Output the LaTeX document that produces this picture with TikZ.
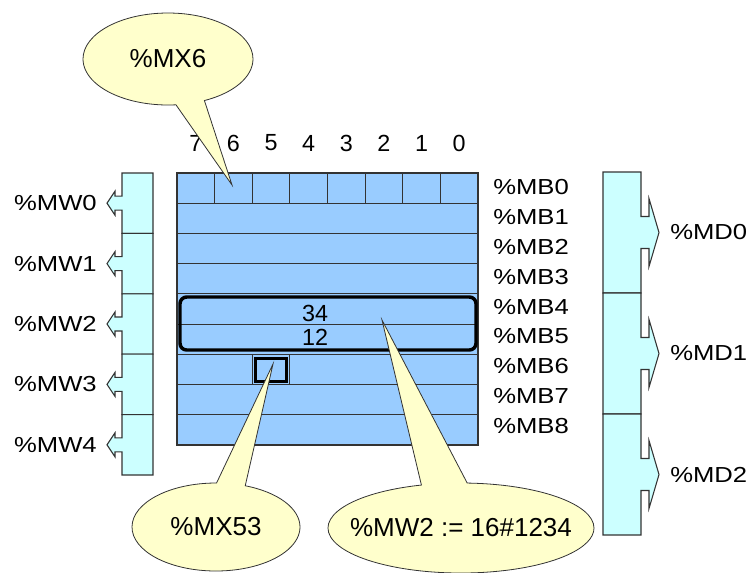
\documentclass[tikz,border=0pt]{standalone}
\usepackage{fontspec}
\setmainfont{Liberation Sans}
\newfontfamily\lblfont{Liberation Sans}[FakeStretch=1.18]
\usetikzlibrary{shapes.callouts}
\definecolor{membyte}{HTML}{99CCFF}
\definecolor{memword}{HTML}{CCFFFF}
\definecolor{notefill}{HTML}{FFFFCC}
\definecolor{edge}{HTML}{333333}

\begin{document}
\begin{tikzpicture}[x=0.75pt,y=-0.75pt,
		cell/.style={draw=edge,line width=0.8pt},
		addr/.style={font=\lblfont\fontsize{16.3pt}{18pt}\selectfont,inner sep=0pt},
		bit/.style={font=\fontsize{17.5pt}{19pt}\selectfont,inner sep=0pt},
		note/.style={ellipse callout,draw=edge,fill=notefill,line width=0.6pt,inner sep=0pt,callout pointer arc=20,font=\fontsize{19.5pt}{21pt}\selectfont},
		frame/.style={draw=black,line width=2.6pt,rounded corners=5pt}]
			\useasboundingbox (0,0) rectangle (752,572);
			\fill [membyte] (177,173) rectangle (478,445);
			\foreach \r in {1,...,8} \draw [cell] (177,173+30.22*\r) -- (478,173+30.22*\r);
			\foreach \c in {1,...,7} \draw [cell] (177+37.625*\c,173) -- (177+37.625*\c,203.2);
			\draw [cell] (252.25,354.3) -- (252.25,384.5);
			\draw [cell] (289.9,354.3) -- (289.9,384.5);
			\draw [cell] (177,173) rectangle (478,445);
			\draw [frame] (180,297) rectangle (476,350);
			\draw [draw=black,line width=2.25pt] (255,358) rectangle (286,381);
			\node [bit] (hi) at (315,313) {34};
			\node [bit] (lo) at (315,337) {12};
			\foreach \b [count=\j from 0] in {7,6,5,4,3,2,1,0}
				\node [bit] (bit\b) at (177+37.625*\j+18.8,143) {\b};
			\foreach \i in {0,...,8}
				\node [addr,anchor=west] (mb\i) at (493,187+29.9*\i) {\%MB\i};
			\foreach \i in {0,...,4} {
				\pgfmathsetmacro\yt{173+60.4*\i}
				\pgfmathsetmacro\yb{\yt+60.4}
				\pgfmathsetmacro\ym{\yt+30.2}
				\draw [cell,fill=memword] (153,\yt) -- (153,\yb) -- (122,\yb) -- (122,\ym+7) -- (115,\ym+7) -- (115,\ym+12) -- (107,\ym) -- (115,\ym-12) -- (115,\ym-7) -- (122,\ym-7) -- (122,\yt) -- cycle;
				\node [addr,anchor=east] (mw\i) at (97,\ym) {\%MW\i};
			}
			\foreach \i in {0,1,2} {
				\pgfmathsetmacro\yt{172+121*\i}
				\pgfmathsetmacro\yb{\yt+121}
				\pgfmathsetmacro\ym{\yt+60.5}
				\draw [cell,fill=memword] (603,\yt) -- (641,\yt) -- (641,\ym-16) -- (649,\ym-16) -- (649,\ym-34) -- (659,\ym) -- (649,\ym+34) -- (649,\ym+16) -- (641,\ym+16) -- (641,\yb) -- (603,\yb) -- cycle;
				\node [addr,anchor=west] (md\i) at (670,\ym) {\%MD\i};
			}
			\node [note,minimum width=127.5pt,minimum height=69pt,callout absolute pointer={(232,185)}] (mx6) at (168,59) {\makebox[0pt]{\%MX6}};
			\node [note,minimum width=126pt,minimum height=66pt,callout absolute pointer={(273,364)}] (mx53) at (216,527) {\makebox[0pt]{\%MX53}};
			\node [note,minimum width=199.5pt,minimum height=67.5pt,callout absolute pointer={(382,320)}] (mw2set) at (461,528) {\makebox[0pt]{\%MW2 := 16\#1234}};
		\end{tikzpicture}
\end{document}
